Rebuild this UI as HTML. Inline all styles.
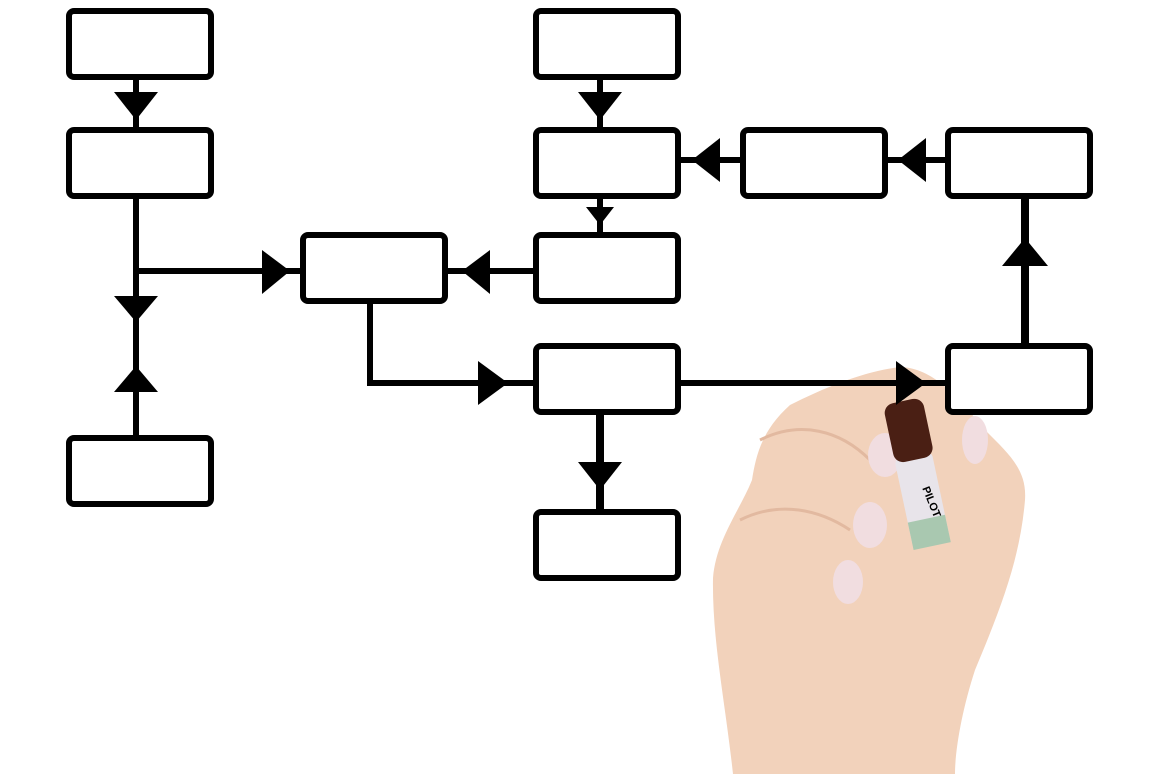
<!DOCTYPE html>
<html><head><style>html,body{margin:0;padding:0;background:#fff}svg{display:block}</style></head>
<body>
<svg width="1166" height="774" viewBox="0 0 1166 774" xmlns="http://www.w3.org/2000/svg">
<path d="M733,774 C725,700 712,640 713,578 C716,540 740,510 752,480 C756,455 762,430 790,405 C820,390 860,372 900,367 C935,368 960,400 985,430 C1010,455 1027,470 1025,500 C1020,560 1000,610 975,670 C962,710 955,750 955,774 Z" fill="#f2d2bb"/>
<path d="M760,440 C800,420 840,430 870,460 M740,520 C780,500 820,510 850,530" stroke="#e2b9a0" stroke-width="3" fill="none"/>
<ellipse cx="885" cy="455" rx="17" ry="22" fill="#f1dde0"/>
<ellipse cx="870" cy="525" rx="17" ry="23" fill="#f1dde0"/>
<ellipse cx="848" cy="582" rx="15" ry="22" fill="#f1dde0"/>
<ellipse cx="975" cy="440" rx="13" ry="24" fill="#f1dde0"/>
<g transform="rotate(-12 915 470)">
<rect x="897" y="455" width="38" height="90" rx="6" fill="#e8e4ea"/>
<rect x="897" y="520" width="38" height="28" fill="#a9c8b0"/>
<rect x="897" y="400" width="40" height="60" rx="10" fill="#4a1f14"/>
<text x="905" y="495" font-family="Liberation Sans, sans-serif" font-size="11" font-weight="bold" transform="rotate(80 915 500)">PILOT</text>
</g>
<g fill="#fff" stroke="#000" stroke-width="6">
<rect x="69" y="11" width="142" height="66" rx="5"/>
<rect x="69" y="130" width="142" height="66" rx="5"/>
<rect x="69" y="438" width="142" height="66" rx="5"/>
<rect x="303" y="235" width="142" height="66" rx="5"/>
<rect x="536" y="11" width="142" height="66" rx="5"/>
<rect x="536" y="130" width="142" height="66" rx="5"/>
<rect x="536" y="235" width="142" height="66" rx="5"/>
<rect x="743" y="130" width="142" height="66" rx="5"/>
<rect x="948" y="130" width="142" height="66" rx="5"/>
<rect x="536" y="346" width="142" height="66" rx="5"/>
<rect x="948" y="346" width="142" height="66" rx="5"/>
<rect x="536" y="512" width="142" height="66" rx="5"/>
</g>
<g stroke="#000" stroke-width="6" fill="none">
<line x1="136" y1="78" x2="136" y2="130"/>
<line x1="136" y1="196" x2="136" y2="438"/>
<line x1="136" y1="271" x2="303" y2="271"/>
<line x1="446" y1="271" x2="536" y2="271"/>
<line x1="600" y1="78" x2="600" y2="130"/>
<line x1="600" y1="196" x2="600" y2="235"/>
<line x1="679" y1="160" x2="743" y2="160"/>
<line x1="886" y1="160" x2="948" y2="160"/>
<polyline points="370,301 370,383 536,383"/>
<line x1="679" y1="383" x2="948" y2="383"/>
<line x1="1025" y1="346" x2="1025" y2="196" stroke-width="8"/>
<line x1="600" y1="412" x2="600" y2="512" stroke-width="8"/>
</g>
<g fill="#000">
<polygon points="114,92 158,92 136,120"/>
<polygon points="114,296 158,296 136,322"/>
<polygon points="114,392 158,392 136,366"/>
<polygon points="262,250 262,294 290,271"/>
<polygon points="490,250 490,294 462,271"/>
<polygon points="578,92 622,92 600,120"/>
<polygon points="586,207 614,207 600,225"/>
<polygon points="720,138 720,182 692,160"/>
<polygon points="926,138 926,182 898,160"/>
<polygon points="478,361 478,405 508,383"/>
<polygon points="896,361 896,405 926,383"/>
<polygon points="1002,266 1048,266 1025,238"/>
<polygon points="578,462 622,462 600,490"/>
</g>
</svg>
</body></html>
